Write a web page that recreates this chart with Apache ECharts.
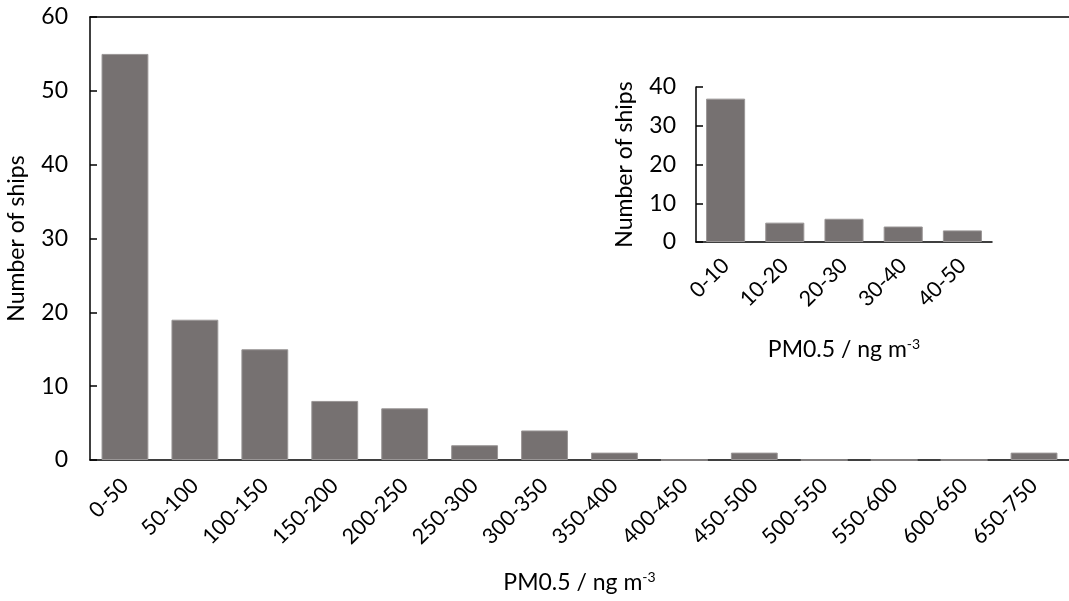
<!DOCTYPE html>
<html>
<head>
<meta charset="utf-8">
<script src="https://cdn.jsdelivr.net/npm/echarts@6/dist/echarts.min.js"></script>
<style>html,body{margin:0;padding:0;background:#fff;}#c{width:1069px;height:601px;}</style>
</head>
<body>
<div id="c"></div>
<script>
const mainCategories = ['0-50','50-100','100-150','150-200','200-250','250-300','300-350','350-400','400-450','450-500','500-550','550-600','600-650','650-750'];
const mainValues = [55, 19, 15, 8, 7, 2, 4, 1, 0, 1, 0, 0, 0, 1];
const insetCategories = ['0-10','10-20','20-30','30-40','40-50'];
const insetValues = [37, 5, 6, 4, 3];
const mainYTicks = {min: 0, max: 60, interval: 10};
const insetYTicks = {min: 0, max: 40, interval: 10};

const FONT = 'Lato';
const barColor = '#767171';
const axisColor = '#000';

const chart = echarts.init(document.getElementById('c'), null, {renderer: 'canvas'});
const nameRich = {
  a: {fontFamily: FONT, fontSize: 23, color: '#000'},
  sup: {fontFamily: FONT, fontSize: 14, color: '#000', verticalAlign: 'top', padding: [0, 0, 12, 0]}
};
chart.setOption({
  animation: false,
  grid: [
    {left: 90, right: 0, top: 17, bottom: 141, containLabel: false, outerBoundsMode: 'none'},
    {left: 696, top: 87, width: 296, height: 155, containLabel: false, outerBoundsMode: 'none'}
  ],
  xAxis: [
    {
      type: 'category', gridIndex: 0, data: mainCategories,
      axisLine: {lineStyle: {color: axisColor, width: 1.5}},
      axisTick: {show: false},
      axisLabel: {rotate: 45, fontFamily: FONT, fontSize: 21.5, color: '#000', margin: 22, interval: 0},
      name: '{a|PM0.5 / ng m}{sup|-3}', nameLocation: 'middle', nameGap: 110,
      nameTextStyle: {rich: nameRich}
    },
    {
      type: 'category', gridIndex: 0, data: mainCategories, position: 'top',
      axisLine: {lineStyle: {color: axisColor, width: 1.5}},
      axisTick: {show: false}, axisLabel: {show: false}
    },
    {
      type: 'category', gridIndex: 1, data: insetCategories,
      axisLine: {lineStyle: {color: axisColor, width: 1.5}},
      axisTick: {show: false},
      axisLabel: {rotate: 45, fontFamily: FONT, fontSize: 21.5, color: '#000', margin: 20, interval: 0},
      name: '{a|PM0.5 / ng m}{sup|-3}', nameLocation: 'middle', nameGap: 95,
      nameTextStyle: {rich: nameRich}
    }
  ],
  yAxis: [
    {
      type: 'value', gridIndex: 0, min: mainYTicks.min, max: mainYTicks.max, interval: mainYTicks.interval,
      axisLine: {show: true, lineStyle: {color: axisColor, width: 1.5}},
      axisTick: {show: true, inside: true, length: 7, lineStyle: {color: axisColor, width: 1.5}},
      splitLine: {show: false},
      axisLabel: {fontFamily: FONT, fontSize: 23, color: '#000', margin: 22},
      name: 'Number of ships', nameLocation: 'middle', nameGap: 62,
      nameTextStyle: {fontFamily: FONT, fontSize: 23, color: '#000'}
    },
    {
      type: 'value', gridIndex: 1, min: insetYTicks.min, max: insetYTicks.max, interval: insetYTicks.interval,
      axisLine: {show: true, lineStyle: {color: axisColor, width: 1.5}},
      axisTick: {show: true, inside: true, length: 7, lineStyle: {color: axisColor, width: 1.5}},
      splitLine: {show: false},
      axisLabel: {fontFamily: FONT, fontSize: 23, color: '#000', margin: 20},
      name: 'Number of ships', nameLocation: 'middle', nameGap: 60,
      nameTextStyle: {fontFamily: FONT, fontSize: 23, color: '#000'}
    }
  ],
  series: [
    {
      type: 'bar', xAxisIndex: 0, yAxisIndex: 0, data: mainValues,
      barCategoryGap: '33%',
      itemStyle: {color: barColor, borderColor: '#9a9696', borderWidth: 1}
    },
    {
      type: 'bar', xAxisIndex: 2, yAxisIndex: 1, data: insetValues,
      barCategoryGap: '34%',
      itemStyle: {color: barColor, borderColor: '#9a9696', borderWidth: 1}
    }
  ]
});
</script>
</body>
</html>
